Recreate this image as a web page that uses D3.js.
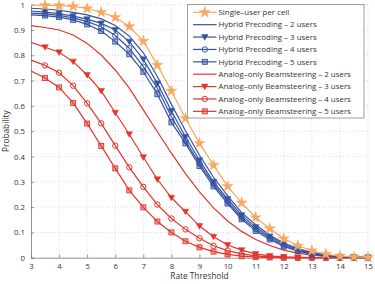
<!DOCTYPE html>
<html>
<head>
<meta charset="utf-8">
<script src="https://cdn.jsdelivr.net/npm/d3@7"></script>
<style>
  body { margin: 0; background: #fff; }
  svg text { font-family: "Open Sans", Lato, sans-serif; fill: #333; }
</style>
</head>
<body>
<svg id="chart" width="375" height="284"></svg>
<script>
// rate thresholds, 3 .. 15 in steps of 0.5
const thresholds = [3, 3.5, 4, 4.5, 5, 5.5, 6, 6.5, 7, 7.5, 8, 8.5, 9, 9.5, 10,
  10.5, 11, 11.5, 12, 12.5, 13, 13.5, 14, 14.5, 15];

const singleUser = [0.998, 0.997, 0.996, 0.993, 0.985, 0.970, 0.950, 0.914, 0.856, 0.761,
  0.659, 0.551, 0.452, 0.366, 0.282, 0.217, 0.159, 0.115, 0.076, 0.047, 0.028, 0.014, 0.006, 0.003, 0.001];
const hybrid2 = [0.986, 0.983, 0.978, 0.970, 0.960, 0.944, 0.918, 0.876, 0.810, 0.716,
  0.606, 0.502, 0.405, 0.318, 0.245, 0.178, 0.130, 0.090, 0.058, 0.036, 0.020, 0.010, 0.005, 0.002, 0.001];
const hybrid3 = [0.975, 0.971, 0.965, 0.955, 0.943, 0.926, 0.900, 0.854, 0.784, 0.689,
  0.580, 0.478, 0.385, 0.300, 0.232, 0.168, 0.121, 0.084, 0.053, 0.033, 0.018, 0.009, 0.004, 0.002, 0.001];
const hybrid4 = [0.967, 0.964, 0.958, 0.948, 0.933, 0.913, 0.878, 0.828, 0.755, 0.670,
  0.557, 0.462, 0.372, 0.292, 0.222, 0.159, 0.113, 0.078, 0.048, 0.029, 0.015, 0.007, 0.003, 0.001, 0.000];
const hybrid5 = [0.960, 0.957, 0.951, 0.940, 0.922, 0.896, 0.854, 0.804, 0.735, 0.646,
  0.535, 0.452, 0.362, 0.282, 0.214, 0.152, 0.106, 0.072, 0.044, 0.026, 0.013, 0.006, 0.003, 0.001, 0.000];
const analog2 = [0.917, 0.910, 0.900, 0.880, 0.847, 0.801, 0.742, 0.670, 0.584, 0.498,
  0.413, 0.332, 0.260, 0.197, 0.145, 0.104, 0.072, 0.048, 0.030, 0.018, 0.010, 0.005, 0.002, 0.001, 0.000];
const analog3 = [0.851, 0.832, 0.812, 0.775, 0.722, 0.659, 0.573, 0.488, 0.397, 0.310,
  0.237, 0.182, 0.125, 0.083, 0.050, 0.030, 0.015, 0.007, 0.003, 0.001, 0.000, 0.000, 0.000, 0.000, 0.000];
const analog4 = [0.781, 0.760, 0.731, 0.680, 0.610, 0.531, 0.443, 0.357, 0.280, 0.210,
  0.155, 0.112, 0.077, 0.047, 0.028, 0.015, 0.007, 0.003, 0.001, 0.000, 0.000, 0.000, 0.000, 0.000, 0.000];
const analog5 = [0.738, 0.710, 0.673, 0.612, 0.530, 0.442, 0.353, 0.266, 0.199, 0.143,
  0.100, 0.065, 0.041, 0.024, 0.013, 0.006, 0.002, 0.001, 0.000, 0.000, 0.000, 0.000, 0.000, 0.000, 0.000];

const seriesNames = [
  "Single\u2013user per cell",
  "Hybrid Precoding \u2013 2 users",
  "Hybrid Precoding \u2013 3 users",
  "Hybrid Precoding \u2013 4 users",
  "Hybrid Precoding \u2013 5 users",
  "Analog\u2013only Beamsteering \u2013 2 users",
  "Analog\u2013only Beamsteering \u2013 3 users",
  "Analog\u2013only Beamsteering \u2013 4 users",
  "Analog\u2013only Beamsteering \u2013 5 users",
];
const seriesValues = [singleUser, hybrid2, hybrid3, hybrid4, hybrid5, analog2, analog3, analog4, analog5];
const seriesMarkers = ["star", "none", "tri", "circle", "square", "none", "tri", "circle", "square"];

const xTicks = [3, 4, 5, 6, 7, 8, 9, 10, 11, 12, 13, 14, 15];
const yTicks = [0, 0.1, 0.2, 0.3, 0.4, 0.5, 0.6, 0.7, 0.8, 0.9, 1];

const ORANGE = "#F8A860";
const BLUE = "#3553A4";
const RED = "#E2352C";
const seriesColors = [ORANGE, BLUE, BLUE, BLUE, BLUE, RED, RED, RED, RED];

const svg = d3.select("#chart");
const margin = { top: 4.7, right: 7, bottom: 26.3, left: 31 };
const W = 375, H = 284;

const x = d3.scaleLinear().domain([3, 15]).range([margin.left, W - margin.right]);
const y = d3.scaleLinear().domain([0, 1]).range([H - margin.bottom, margin.top]);

// grid
const grid = svg.append("g");
grid.selectAll("line.vg")
  .data(xTicks.slice(1))
  .join("line")
  .attr("x1", (d) => x(d)).attr("x2", (d) => x(d))
  .attr("y1", y(0)).attr("y2", y(1))
  .attr("stroke", "#c8c8c8").attr("stroke-width", 0.7)
  .attr("stroke-dasharray", "1,2");
grid.selectAll("line.hg")
  .data(yTicks.slice(1))
  .join("line")
  .attr("x1", x(3)).attr("x2", x(15))
  .attr("y1", (d) => y(d)).attr("y2", (d) => y(d))
  .attr("stroke", "#c8c8c8").attr("stroke-width", 0.7)
  .attr("stroke-dasharray", "1,2");

// axes
const xAxis = svg.append("g")
  .attr("transform", `translate(0,${y(0)})`)
  .call(d3.axisBottom(x).tickValues(xTicks).tickSize(-3).tickPadding(6).tickFormat(d3.format("d")));
const yAxis = svg.append("g")
  .attr("transform", `translate(${x(3)},0)`)
  .call(d3.axisLeft(y).tickValues(yTicks).tickSize(-3).tickPadding(6).tickFormat((d) => (d === 0 || d === 1 ? d : d3.format(".1f")(d))));
[xAxis, yAxis].forEach((a) => {
  a.select(".domain").attr("stroke", "#777").attr("stroke-width", 0.8);
  a.selectAll(".tick line").attr("stroke", "#777").attr("stroke-width", 0.8);
  a.selectAll(".tick text").attr("font-size", 7.8).attr("fill", "#333");
});

svg.append("text")
  .attr("x", (x(3) + x(15)) / 2).attr("y", 279)
  .attr("text-anchor", "middle").attr("font-size", 8.3)
  .text("Rate Threshold");
svg.append("text")
  .attr("transform", `translate(9,${(y(0) + y(1)) / 2}) rotate(-90)`)
  .attr("text-anchor", "middle").attr("font-size", 8.3)
  .text("Probability");

// markers
const starPath = d3.symbol(d3.symbolStar, 40)();
const triPath = (() => {
  // downward triangle
  const s = 3.3;
  return `M${-s},${-s * 0.75}L${s},${-s * 0.75}L0,${s * 0.95}Z`;
})();

function drawMarker(g, type, color, cx, cy) {
  if (type === "star") {
    g.append("path").attr("d", starPath)
      .attr("transform", `translate(${cx},${cy})`)
      .attr("fill", color).attr("stroke", color).attr("stroke-width", 0.4);
  } else if (type === "tri") {
    g.append("path").attr("d", triPath)
      .attr("transform", `translate(${cx},${cy})`)
      .attr("fill", color).attr("stroke", color).attr("stroke-width", 0.5);
  } else if (type === "circle") {
    g.append("circle").attr("cx", cx).attr("cy", cy).attr("r", 2.7)
      .attr("fill", "none").attr("stroke", color).attr("stroke-width", 1);
  } else if (type === "square") {
    g.append("rect").attr("x", cx - 2.5).attr("y", cy - 2.5)
      .attr("width", 5).attr("height", 5)
      .attr("fill", color).attr("fill-opacity", 0.45)
      .attr("stroke", color).attr("stroke-width", 0.9);
  }
}

const line = d3.line().x((d) => x(d[0])).y((d) => y(d[1]));

// draw from last to first so the orange/blue sit on top of red
const plot = svg.append("g");
for (let i = seriesValues.length - 1; i >= 0; i--) {
  const pts = thresholds.map((t, j) => [t, seriesValues[i][j]]);
  const g = plot.append("g");
  g.append("path").datum(pts)
    .attr("d", line)
    .attr("fill", "none")
    .attr("stroke", seriesColors[i])
    .attr("stroke-width", 1.2);
  if (seriesMarkers[i] !== "none") {
    pts.filter((p) => p[0] > 3).forEach((p) => drawMarker(g, seriesMarkers[i], seriesColors[i], x(p[0]), y(p[1])));
  }
}

// legend
const lg = svg.append("g");
lg.append("rect")
  .attr("x", 187.5).attr("y", 4.5).attr("width", 176.5).attr("height", 113.5)
  .attr("fill", "#fff").attr("stroke", "#888").attr("stroke-width", 0.8);
seriesNames.forEach((name, i) => {
  const cy = 12.3 + i * 12.38;
  lg.append("line")
    .attr("x1", 193).attr("x2", 216.5).attr("y1", cy).attr("y2", cy)
    .attr("stroke", seriesColors[i]).attr("stroke-width", 1.2);
  drawMarker(lg, seriesMarkers[i], seriesColors[i], 204.8, cy);
  lg.append("text")
    .attr("x", 218.5).attr("y", cy + 2.8)
    .attr("font-size", 7.9)
    .text(name);
});
</script>
</body>
</html>
